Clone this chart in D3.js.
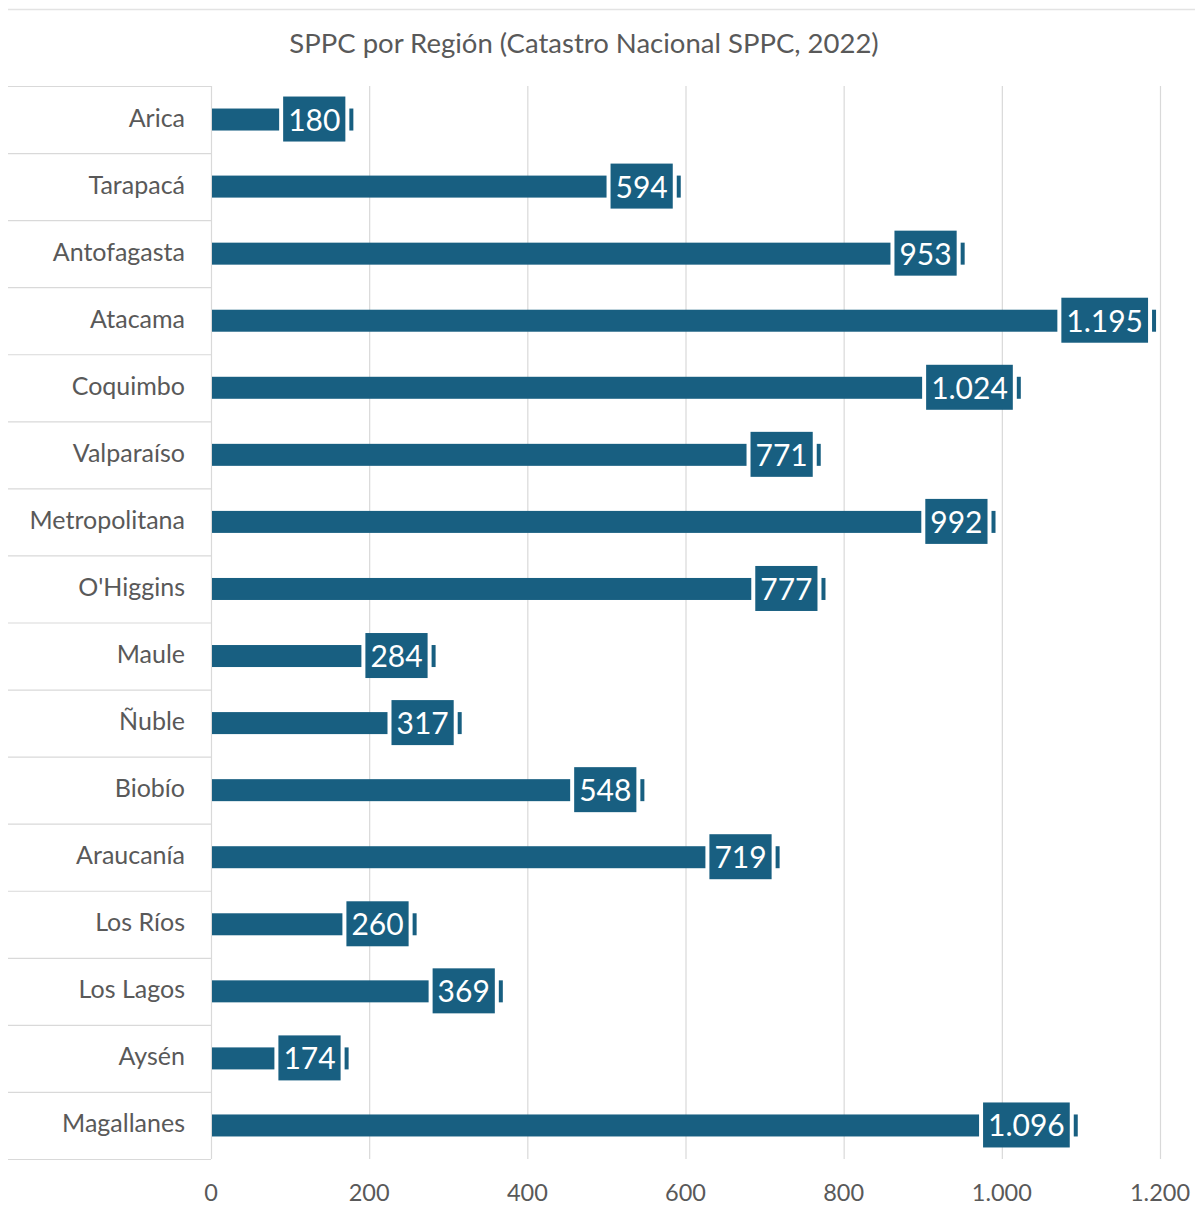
<!DOCTYPE html>
<html>
<head>
<meta charset="utf-8">
<script src="https://cdn.jsdelivr.net/npm/d3@7"></script>
<style>
  body { margin: 0; background: #fff; }
  text { font-family: Lato, "Open Sans", sans-serif; }
</style>
</head>
<body>
<div id="chart"></div>
<script>
const regions = ["Arica", "Tarapacá", "Antofagasta", "Atacama", "Coquimbo", "Valparaíso",
  "Metropolitana", "O'Higgins", "Maule", "Ñuble", "Biobío", "Araucanía", "Los Ríos",
  "Los Lagos", "Aysén", "Magallanes"]
const sppc = [180, 594, 953, 1195, 1024, 771, 992, 777, 284, 317, 548, 719, 260, 369, 174, 1096]
const xTicks = [0, 200, 400, 600, 800, 1000, 1200]

const width = 1195, height = 1217
const margin = { top: 86, left: 211, right: 35, bottom: 58 }

const es = d3.formatLocale({ decimal: ",", thousands: ".", grouping: [3], currency: ["$", ""] })
const fmt = es.format(",d")

const svg = d3.select("#chart").append("svg")
  .attr("width", width)
  .attr("height", height)

// chart border top line
svg.append("line")
  .attr("x1", 8).attr("x2", width)
  .attr("y1", 9.5).attr("y2", 9.5)
  .attr("stroke", "#e3e3e3").attr("stroke-width", 1.5)

svg.append("text")
  .attr("x", 584).attr("y", 53)
  .attr("text-anchor", "middle")
  .attr("font-size", 27.5)
  .attr("fill", "#595959")
  .text("SPPC por Región (Catastro Nacional SPPC, 2022)")

const x = d3.scaleLinear().domain([0, 1200]).range([margin.left, width - margin.right])
const y = d3.scaleBand().domain(regions).range([margin.top, height - margin.bottom])

// vertical gridlines
svg.append("g").selectAll("line")
  .data(xTicks)
  .join("line")
  .attr("x1", d => x(d) + 0.5).attr("x2", d => x(d) + 0.5)
  .attr("y1", margin.top).attr("y2", height - margin.bottom)
  .attr("stroke", "#d9d9d9").attr("stroke-width", 1.2)

// row separators in label area
const seps = regions.map(r => y(r)).concat([y.range()[1]])
svg.append("g").selectAll("line")
  .data(seps)
  .join("line")
  .attr("x1", 8).attr("x2", margin.left)
  .attr("y1", d => d + 0.5).attr("y2", d => d + 0.5)
  .attr("stroke", "#d9d9d9").attr("stroke-width", 1.2)

// x tick labels
svg.append("g").selectAll("text")
  .data(xTicks)
  .join("text")
  .attr("x", d => x(d))
  .attr("y", 1201)
  .attr("text-anchor", "middle")
  .attr("font-size", 23.5)
  .attr("fill", "#595959")
  .text(d => fmt(d))

// category labels
svg.append("g").selectAll("text")
  .data(regions)
  .join("text")
  .attr("x", 185)
  .attr("y", d => y(d) + y.bandwidth() / 2 + 7)
  .attr("text-anchor", "end")
  .attr("font-size", 25)
  .attr("fill", "#595959")
  .text(d => d)

const barColor = "#185f81"
const barH = 22

const rows = svg.append("g").selectAll("g")
  .data(regions.map((r, i) => ({ region: r, value: sppc[i] })))
  .join("g")
  .attr("transform", d => `translate(0,${y(d.region) + y.bandwidth() / 2})`)

rows.append("rect")
  .attr("x", x(0) + 1)
  .attr("y", -barH / 2)
  .attr("width", d => x(d.value) - x(0) - 1)
  .attr("height", barH)
  .attr("fill", barColor)

// data labels in boxes
rows.each(function (d) {
  const g = d3.select(this)
  const t = g.append("text")
    .attr("font-size", 30)
    .attr("fill", "#fff")
    .attr("text-anchor", "middle")
    .attr("y", 11)
    .text(fmt(d.value))
  const tw = t.node().getComputedTextLength()
  const boxW = tw + 10
  const right = x(d.value) - 8
  const left = right - boxW
  g.insert("rect", "text")
    .attr("x", left - 4).attr("y", -barH / 2 - 1)
    .attr("width", boxW + 8).attr("height", barH + 2)
    .attr("fill", "#fff")
  g.insert("rect", "text")
    .attr("x", left).attr("y", -23)
    .attr("width", boxW).attr("height", 45)
    .attr("fill", barColor)
  t.attr("x", left + boxW / 2)
})
</script>
</body>
</html>
